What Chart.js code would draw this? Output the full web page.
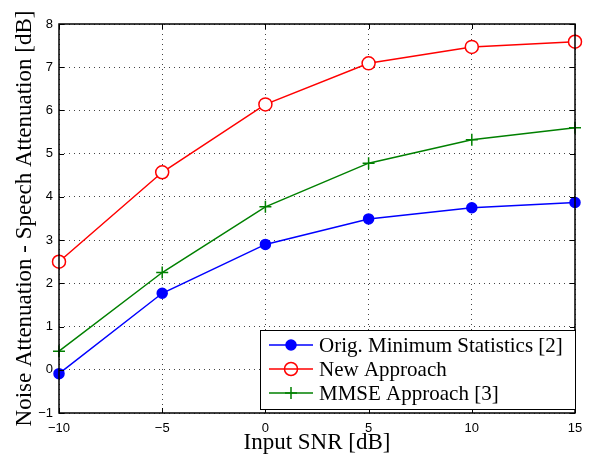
<!DOCTYPE html>
<html>
<head>
<meta charset="utf-8">
<script src="https://cdn.jsdelivr.net/npm/chart.js@4/dist/chart.umd.min.js"></script>
<style>
  html, body { margin: 0; padding: 0; background: #fff; }
  #wrap { width: 592px; height: 457px; }
</style>
</head>
<body>
<div id="wrap"><canvas id="snrChart"></canvas></div>
<script>
// input SNR values (dB)
const snr = [-10, -5, 0, 5, 10, 15];

// noise attenuation minus speech attenuation (dB)
const origMinStats = [-0.09, 1.77, 2.90, 3.49, 3.75, 3.87];
const newApproach = [2.50, 4.57, 6.14, 7.09, 7.47, 7.59];
const mmseApproach = [0.43, 2.25, 3.77, 4.78, 5.32, 5.60];

const seriesLabels = ['Orig. Minimum Statistics [2]', 'New Approach', 'MMSE Approach [3]'];

const xTicks = [-10, -5, 0, 5, 10, 15];
const yTicks = [-1, 0, 1, 2, 3, 4, 5, 6, 7, 8];

const toPoints = ys => snr.map((x, i) => ({ x: x, y: ys[i] }));

const tickFont = { family: '"Liberation Sans", Arial, sans-serif', size: 13 };
const titleFont = { family: '"Liberation Serif", "Times New Roman", serif', size: 23 };

// matlab style inward ticks on all four sides + legend box inside the axes
const matlabFrame = {
    id: 'matlabFrame',
    afterDatasetsDraw(chart) {
        const { ctx, chartArea: a, scales } = chart;
        ctx.save();
        ctx.strokeStyle = '#000';
        ctx.lineWidth = 1;
        const len = 5;
        xTicks.forEach(v => {
            const px = Math.round(scales.x.getPixelForValue(v)) + 0.5;
            ctx.beginPath();
            ctx.moveTo(px, a.bottom); ctx.lineTo(px, a.bottom - len);
            ctx.moveTo(px, a.top); ctx.lineTo(px, a.top + len);
            ctx.stroke();
        });
        yTicks.forEach(v => {
            const py = Math.round(scales.y.getPixelForValue(v)) + 0.5;
            ctx.beginPath();
            ctx.moveTo(a.left, py); ctx.lineTo(a.left + len, py);
            ctx.moveTo(a.right, py); ctx.lineTo(a.right - len, py);
            ctx.stroke();
        });
        ctx.lineWidth = 1.5;
        ctx.strokeRect(a.left, a.top, a.right - a.left, a.bottom - a.top);

        // legend
        const bx = 260.5, by = 330.5, bw = 315, bh = 79;
        ctx.fillStyle = '#fff';
        ctx.fillRect(bx, by, bw, bh);
        ctx.lineWidth = 1;
        ctx.strokeRect(bx, by, bw, bh);
        const rows = [345, 369, 393];
        chart.data.datasets.forEach((ds, i) => {
            const y = rows[i];
            ctx.strokeStyle = ds.borderColor;
            ctx.lineWidth = 1.5;
            ctx.beginPath();
            ctx.moveTo(269, y); ctx.lineTo(313, y);
            ctx.stroke();
            const cx = 291;
            if (ds.pointStyle === 'cross') {
                ctx.beginPath();
                ctx.moveTo(cx - 6, y); ctx.lineTo(cx + 6, y);
                ctx.moveTo(cx, y - 6); ctx.lineTo(cx, y + 6);
                ctx.stroke();
            } else {
                ctx.beginPath();
                ctx.arc(cx, y, ds.pointRadius, 0, Math.PI * 2);
                if (ds.pointBackgroundColor !== '#ffffff') {
                    ctx.fillStyle = ds.pointBackgroundColor;
                    ctx.fill();
                }
                ctx.stroke();
            }
            ctx.fillStyle = '#000';
            ctx.font = '21px "Liberation Serif", "Times New Roman", serif';
            ctx.textBaseline = 'middle';
            ctx.textAlign = 'left';
            ctx.fillText(ds.label, 319, y + 1);
        });
        ctx.restore();
    }
};

new Chart(document.getElementById('snrChart'), {
    type: 'line',
    data: {
        datasets: [{
            label: seriesLabels[0],
            data: toPoints(origMinStats),
            borderColor: '#0000ff',
            backgroundColor: '#0000ff',
            pointBackgroundColor: '#0000ff',
            pointBorderColor: '#0000ff',
            pointStyle: 'circle',
            pointRadius: 5,
            borderWidth: 1.5,
            clip: false
        }, {
            label: seriesLabels[1],
            data: toPoints(newApproach),
            borderColor: '#ff0000',
            backgroundColor: '#ff0000',
            pointBackgroundColor: '#ffffff',
            pointBorderColor: '#ff0000',
            pointBorderWidth: 1.5,
            pointStyle: 'circle',
            pointRadius: 6.5,
            borderWidth: 1.5,
            clip: false
        }, {
            label: seriesLabels[2],
            data: toPoints(mmseApproach),
            borderColor: '#008000',
            backgroundColor: '#008000',
            pointBorderColor: '#008000',
            pointBackgroundColor: '#008000',
            pointBorderWidth: 1.5,
            pointStyle: 'cross',
            pointRadius: 6,
            borderWidth: 1.5,
            clip: false
        }]
    },
    options: {
        responsive: true,
        maintainAspectRatio: false,
        animation: false,
        layout: { padding: { left: 0, right: 17, top: 24, bottom: 0 } },
        plugins: {
            legend: { display: false },
            tooltip: { enabled: false }
        },
        elements: { line: { tension: 0 } },
        scales: {
            x: {
                type: 'linear',
                min: -10,
                max: 15,
                afterBuildTicks: s => { s.ticks = xTicks.map(v => ({ value: v })); },
                afterFit: s => { s.height = 44; },
                ticks: {
                    font: tickFont,
                    color: '#000',
                    padding: 8,
                    maxRotation: 0,
                    callback: v => String(v).replace('-', '\u2212')
                },
                grid: { color: '#444', lineWidth: 1, drawTicks: false },
                border: { display: false, dash: [1, 4] },
                title: { display: true, text: 'Input SNR [dB]', font: titleFont, color: '#000', padding: { top: -6, bottom: 0 } }
            },
            y: {
                min: -1,
                max: 8,
                afterBuildTicks: s => { s.ticks = yTicks.map(v => ({ value: v })); },
                afterFit: s => { s.width = 59; },
                ticks: {
                    font: tickFont,
                    color: '#000',
                    padding: 6,
                    callback: v => String(v).replace('-', '\u2212')
                },
                grid: { color: '#444', lineWidth: 1, drawTicks: false },
                border: { display: false, dash: [1, 4] },
                title: { display: true, text: 'Noise Attenuation - Speech Attenuation [dB]', font: titleFont, color: '#000', padding: { top: 11, bottom: 0 } }
            }
        }
    },
    plugins: [matlabFrame]
});
</script>
</body>
</html>
